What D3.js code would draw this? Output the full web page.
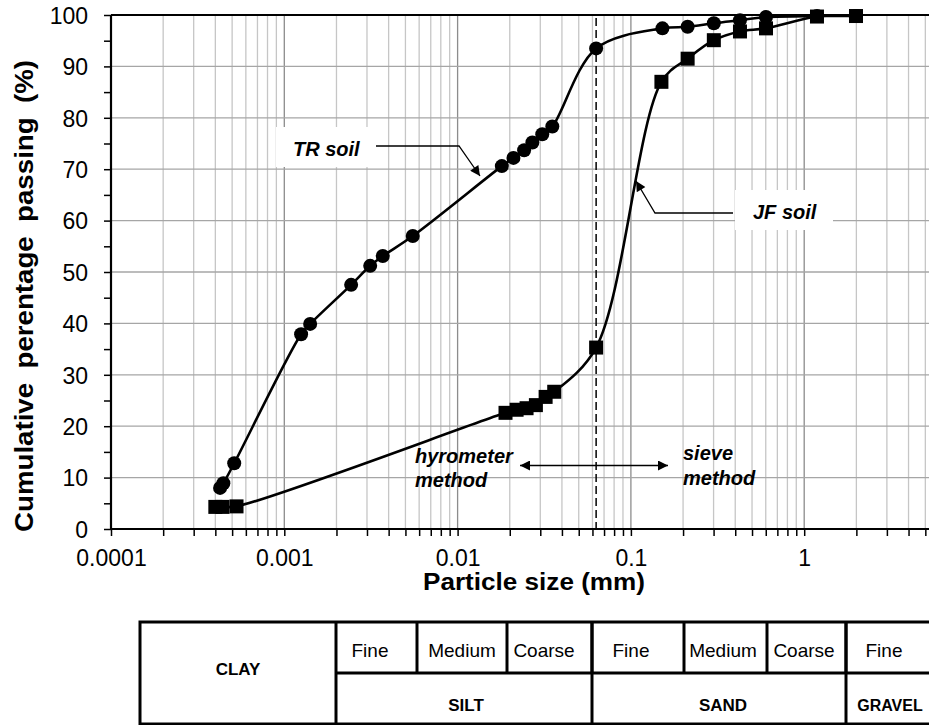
<!DOCTYPE html>
<html>
<head>
<meta charset="utf-8">
<title>Particle size distribution</title>
<script src="https://cdn.jsdelivr.net/npm/d3@7"></script>
<style>
  body { margin: 0; background: #fff; }
  svg { display: block; font-family: Arial, "Liberation Sans", sans-serif; }
</style>
</head>
<body>
<svg id="chart" width="929" height="725"></svg>
<script>
// TR soil (circles)
const trSize = [0.000426, 0.000445, 0.000514, 0.00125, 0.00141, 0.00243, 0.00313, 0.0037, 0.00551,
  0.0180, 0.0210, 0.0242, 0.0270, 0.0308, 0.0352, 0.063, 0.152, 0.2125, 0.301, 0.426, 0.602, 1.185, 1.99];
const trPassing = [8.0, 8.9, 12.8, 37.9, 39.9, 47.5, 51.2, 53.1, 57.0,
  70.6, 72.2, 73.7, 75.2, 76.8, 78.3, 93.5, 97.4, 97.7, 98.4, 99.0, 99.6, 99.8, 99.8];

// JF soil (squares)
const jfSize = [0.0004, 0.00044, 0.00053, 0.0189, 0.0219, 0.025, 0.0283, 0.0322, 0.0361,
  0.063, 0.150, 0.2125, 0.301, 0.426, 0.602, 1.185, 1.99];
const jfPassing = [4.3, 4.3, 4.4, 22.6, 23.2, 23.5, 24.1, 25.7, 26.7,
  35.3, 87.0, 91.5, 95.1, 96.8, 97.4, 99.7, 99.8];

const yTicks = [0, 10, 20, 30, 40, 50, 60, 70, 80, 90, 100];
const xTickLabels = ["0.0001", "0.001", "0.01", "0.1", "1"];
const boundarySize = 0.063; // hydrometer / sieve split

// classification table
const topCells = ["Fine", "Medium", "Coarse", "Fine", "Medium", "Coarse", "Fine"];
const bottomCells = ["SILT", "SAND", "GRAVEL"];

const svg = d3.select("#chart");

const x = d3.scaleLog().domain([1e-4, 10]).range([111, 977.5]);
const y = d3.scaleLinear().domain([0, 100]).range([529, 15]);

// grid
const minor = [];
for (let e = -4; e <= 0; e++) for (let k = 1; k <= 9; k++) minor.push(k * Math.pow(10, e));
minor.push(10);

const grid = svg.append("g");
grid.selectAll("line.v")
  .data(minor)
  .enter().append("line")
  .attr("x1", d => x(d)).attr("x2", d => x(d))
  .attr("y1", y(100)).attr("y2", y(0))
  .attr("stroke", d => Math.abs(Math.log10(d) - Math.round(Math.log10(d))) < 1e-9 ? "#8c8c8c" : "#c6c6c6")
  .attr("stroke-width", 1.3);

grid.selectAll("line.h")
  .data(yTicks.slice(1))
  .enter().append("line")
  .attr("x1", x(1e-4)).attr("x2", 929)
  .attr("y1", d => y(d)).attr("y2", d => y(d))
  .attr("stroke", "#a6a6a6")
  .attr("stroke-width", 1.3);

// dashed boundary line
svg.append("line")
  .attr("x1", x(boundarySize)).attr("x2", x(boundarySize))
  .attr("y1", y(99.4)).attr("y2", y(0))
  .attr("stroke", "#000").attr("stroke-width", 1.5)
  .attr("stroke-dasharray", "8,4");

// curves
const line = d3.line().curve(d3.curveCatmullRom.alpha(0.5));
const trPts = trSize.map((s, i) => [x(s), y(trPassing[i])]);
const jfPts = jfSize.map((s, i) => [x(s), y(jfPassing[i])]);

svg.append("path").attr("d", line(jfPts))
  .attr("fill", "none").attr("stroke", "#000").attr("stroke-width", 2.6);
svg.append("path").attr("d", line(trPts))
  .attr("fill", "none").attr("stroke", "#000").attr("stroke-width", 2.6);

svg.append("g").selectAll("rect")
  .data(jfPts)
  .enter().append("rect")
  .attr("x", d => d[0] - 7).attr("y", d => d[1] - 7)
  .attr("width", 14).attr("height", 14)
  .attr("fill", "#000");

svg.append("g").selectAll("circle")
  .data(trPts)
  .enter().append("circle")
  .attr("cx", d => d[0]).attr("cy", d => d[1])
  .attr("r", 7)
  .attr("fill", "#000");

// arrow marker
svg.append("defs").append("marker")
  .attr("id", "arr")
  .attr("viewBox", "0 0 10 10")
  .attr("refX", 10).attr("refY", 5)
  .attr("markerWidth", 14).attr("markerHeight", 10)
  .attr("markerUnits", "userSpaceOnUse")
  .attr("orient", "auto-start-reverse")
  .append("path").attr("d", "M0,0 L10,5 L0,10 Z").attr("fill", "#000");

const lab = svg.append("g")
  .attr("font-weight", "bold").attr("font-style", "italic")
  .attr("font-size", 20);

// TR soil label
svg.append("rect").attr("x", 276).attr("y", 127).attr("width", 93).attr("height", 40).attr("fill", "#fff");
lab.append("text").attr("x", 293).attr("y", 156).text("TR soil");
svg.append("polyline")
  .attr("points", "376,146 459,146 480,176")
  .attr("fill", "none").attr("stroke", "#000").attr("stroke-width", 1.3)
  .attr("marker-end", "url(#arr)");

// JF soil label
svg.append("rect").attr("x", 735).attr("y", 190).attr("width", 98).attr("height", 40).attr("fill", "#fff");
lab.append("text").attr("x", 753).attr("y", 219).text("JF soil");
svg.append("polyline")
  .attr("points", "733,213 655,213 636,181")
  .attr("fill", "none").attr("stroke", "#000").attr("stroke-width", 1.3)
  .attr("marker-end", "url(#arr)");
lab.raise();

// method labels
lab.append("text").attr("x", 415).attr("y", 463).text("hyrometer");
lab.append("text").attr("x", 415).attr("y", 487).text("method");
lab.append("text").attr("x", 683).attr("y", 460).text("sieve");
lab.append("text").attr("x", 683).attr("y", 485).text("method");
svg.append("line")
  .attr("x1", 520).attr("x2", 668).attr("y1", 465.5).attr("y2", 465.5)
  .attr("stroke", "#000").attr("stroke-width", 1.3)
  .attr("marker-start", "url(#arr)").attr("marker-end", "url(#arr)");

// axes
const yAxis = d3.axisLeft(y).tickValues(d3.range(0, 101, 5)).tickSize(7).tickPadding(16)
  .tickFormat(d => d % 10 === 0 ? d : "");
const gy = svg.append("g").attr("transform", `translate(${x(1e-4)},0)`).call(yAxis);
gy.select(".domain").remove();
gy.selectAll(".tick line").attr("stroke", "#000").attr("stroke-width", 1.5);
gy.selectAll(".tick text").attr("font-size", 23).attr("fill", "#000")
  .attr("font-family", "Arial, 'Liberation Sans', sans-serif").attr("dy", "0.36em");

const xAxis = d3.axisBottom(x).tickValues(minor).tickSize(7).tickPadding(14)
  .tickFormat(d => {
    const i = Math.log10(d) + 4;
    return Math.abs(i - Math.round(i)) < 1e-9 && Math.round(i) < xTickLabels.length ? xTickLabels[Math.round(i)] : "";
  });
const gx = svg.append("g").attr("transform", `translate(0,${y(0)})`).call(xAxis);
gx.select(".domain").remove();
gx.selectAll(".tick line").attr("stroke", "#000").attr("stroke-width", 1.5);
gx.selectAll(".tick text").attr("font-size", 23).attr("fill", "#000")
  .attr("font-family", "Arial, 'Liberation Sans', sans-serif");

// frame lines
svg.append("line").attr("x1", x(1e-4)).attr("x2", 929).attr("y1", y(0)).attr("y2", y(0))
  .attr("stroke", "#000").attr("stroke-width", 2.2);
svg.append("line").attr("x1", x(1e-4)).attr("x2", 929).attr("y1", y(100)).attr("y2", y(100))
  .attr("stroke", "#000").attr("stroke-width", 2.2);
svg.append("line").attr("x1", x(1e-4)).attr("x2", x(1e-4)).attr("y1", y(100)).attr("y2", y(0))
  .attr("stroke", "#000").attr("stroke-width", 2.2);

// axis titles
svg.append("text")
  .attr("transform", "translate(33,296) rotate(-90)")
  .attr("text-anchor", "middle").attr("font-weight", "bold").attr("font-size", 25)
  .attr("textLength", 472).attr("lengthAdjust", "spacingAndGlyphs")
  .attr("word-spacing", 6)
  .text("Cumulative perentage passing (%)");
svg.append("text")
  .attr("x", 534).attr("y", 590)
  .attr("text-anchor", "middle").attr("font-weight", "bold").attr("font-size", 23)
  .attr("textLength", 222).attr("lengthAdjust", "spacingAndGlyphs")
  .text("Particle size (mm)");

// classification table
const tL = 140, tR = 940, tT = 622, tM = 673, tB = 724;
const topEdges = [336, 417, 507, 592, 684, 767, 846, tR];
const bottomEdges = [336, 592, 846, tR];
const tab = svg.append("g").attr("stroke", "#000").attr("stroke-width", 3).attr("fill", "none");
tab.append("rect").attr("x", tL).attr("y", tT).attr("width", tR - tL).attr("height", tB - tT);
tab.append("line").attr("x1", 336).attr("x2", tR).attr("y1", tM).attr("y2", tM);
tab.selectAll("line.top")
  .data(topEdges.slice(1, -1))
  .enter().append("line")
  .attr("x1", d => d).attr("x2", d => d).attr("y1", tT).attr("y2", tM);
tab.selectAll("line.full")
  .data(bottomEdges.slice(0, -1))
  .enter().append("line")
  .attr("x1", d => d).attr("x2", d => d).attr("y1", tT).attr("y2", tB);

const topCenters = [370, 462, 544, 631, 723, 804, 884];
svg.append("g").selectAll("text")
  .data(topCells)
  .enter().append("text")
  .attr("x", (d, i) => topCenters[i]).attr("y", 657)
  .attr("text-anchor", "middle").attr("font-size", 19)
  .text(d => d);

const bottomCenters = [466, 723, 890];
svg.append("g").selectAll("text")
  .data(bottomCells)
  .enter().append("text")
  .attr("x", (d, i) => bottomCenters[i]).attr("y", 711)
  .attr("text-anchor", "middle").attr("font-weight", "bold")
  .attr("font-size", (d, i) => i === 2 ? 16 : 17)
  .text(d => d);

svg.append("text")
  .attr("x", 238).attr("y", 675)
  .attr("text-anchor", "middle").attr("font-weight", "bold").attr("font-size", 17)
  .text("CLAY");
</script>
</body>
</html>
